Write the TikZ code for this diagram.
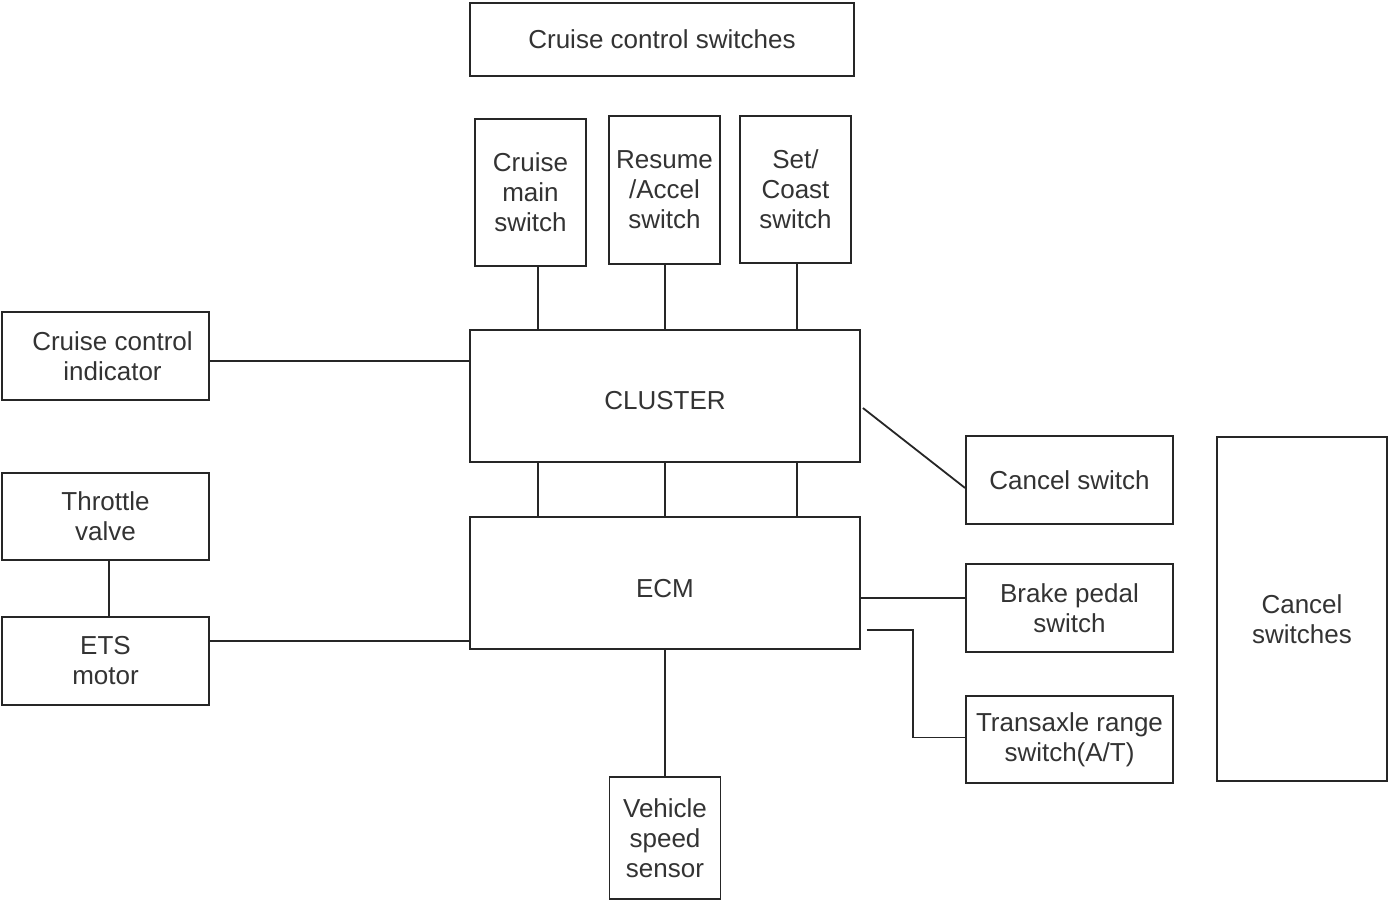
\documentclass[tikz,border=0pt]{standalone}
\usepackage{fontspec}
\setmainfont{Liberation Sans}
\begin{document}
\begin{tikzpicture}[x=1pt,y=-1pt,
  txt/.style={align=center,text=black!80,font=\fontsize{26}{30}\selectfont},
  box/.style={draw=black!85,line width=1.8pt,rectangle,inner sep=0pt,txt},
  wire/.style={draw=black!85,line width=1.8pt}]
\useasboundingbox[fill=white] (0,0) rectangle (1389,902);
\node[box,minimum width=384pt,minimum height=73pt] (ccs) at (662,39.5) {Cruise control switches};
\node[box,minimum width=111pt,minimum height=147pt] (cms) at (530.5,192.5) {Cruise\\main\\switch};
\node[box,minimum width=111pt,minimum height=148pt] (ras) at (664.5,190) {Resume\\/Accel\\switch};
\node[box,minimum width=111pt,minimum height=147pt] (scs) at (795.5,189.5) {Set/\\Coast\\switch};
\node[box,minimum width=207pt,minimum height=88pt,
  label={[txt,xshift=7pt,yshift=0pt]center:{Cruise control\\indicator}}] (cci) at (105.5,356) {};
\node[box,minimum width=390pt,minimum height=132pt,
  label={[txt,yshift=-5pt]center:CLUSTER}] (cluster) at (665,396) {};
\node[box,minimum width=207pt,minimum height=87pt] (tv) at (105.5,516.5) {Throttle\\valve};
\node[box,minimum width=207pt,minimum height=88pt] (ets) at (105.5,661) {ETS\\motor};
\node[box,minimum width=390pt,minimum height=132pt,
  label={[txt,yshift=-6pt]center:ECM}] (ecm) at (665,583) {};
\node[box,minimum width=207pt,minimum height=88pt] (cancel) at (1069.5,480) {Cancel switch};
\node[box,minimum width=207pt,minimum height=88pt] (brake) at (1069.5,608) {Brake pedal\\switch};
\node[box,minimum width=207pt,minimum height=87pt] (trans) at (1069.5,739.5) {Transaxle range\\switch(A/T)};
\node[box,minimum width=170pt,minimum height=344pt,
  label={[txt,yshift=-10pt]center:{Cancel\\switches}}] (cancels) at (1302,609) {};
\node[box,minimum width=111pt,minimum height=122pt] (vss) at (665,838) {Vehicle\\speed\\sensor};
% switches to cluster
\draw[wire] ([xshift=7.5pt]cms.south) -- ([xshift=7.5pt]cms.south |- cluster.north);
\draw[wire] ([xshift=0.5pt]ras.south) -- ([xshift=0.5pt]ras.south |- cluster.north);
\draw[wire] ([xshift=1.5pt]scs.south) -- ([xshift=1.5pt]scs.south |- cluster.north);
% cluster to ecm
\draw[wire] ([xshift=7.5pt]cms.south |- cluster.south) -- ([xshift=7.5pt]cms.south |- ecm.north);
\draw[wire] (cluster.south) -- (ecm.north);
\draw[wire] ([xshift=1.5pt]scs.south |- cluster.south) -- ([xshift=1.5pt]scs.south |- ecm.north);
% left side
\draw[wire] ([yshift=-5pt]cci.east) -- ([yshift=-5pt]cci.east -| cluster.west);
\draw[wire] ([xshift=3.5pt]tv.south) -- ([xshift=3.5pt]ets.north);
\draw[wire] ([yshift=20pt]ets.east) -- ([yshift=20pt]ets.east -| ecm.west);
% right side
\draw[wire] ([xshift=2pt,yshift=-12pt]cluster.east) -- ([yshift=-8pt]cancel.west);
\draw[wire] ([yshift=10pt]brake.west) -- ([yshift=10pt]brake.west -| ecm.east);
\coordinate (tstart) at ([xshift=6pt,yshift=-47pt]ecm.east);
\draw[wire] (tstart) -- ++(46,0) |- ([yshift=2pt]trans.west);
% bottom
\draw[wire] (ecm.south) -- (vss.north);
\end{tikzpicture}
\end{document}
